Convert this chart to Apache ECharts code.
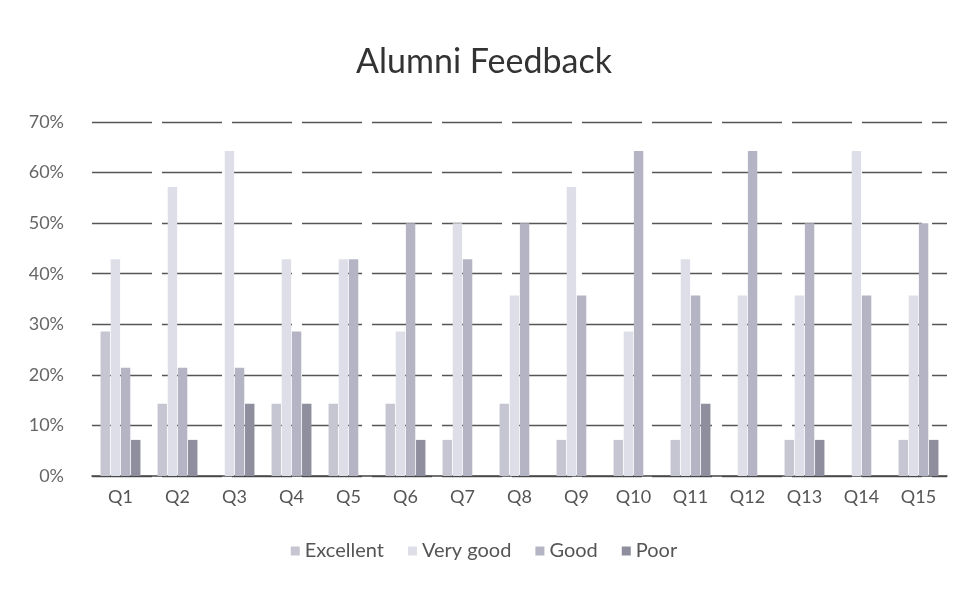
<!DOCTYPE html>
<html>
<head>
<meta charset="utf-8">
<script src="https://cdn.jsdelivr.net/npm/echarts@6/dist/echarts.min.js"></script>
<style>
html,body{margin:0;padding:0;background:#fff;}
#chart{width:968px;height:596px;}
</style>
</head>
<body>
<div id="chart"></div>
<script>
const categories = ['Q1','Q2','Q3','Q4','Q5','Q6','Q7','Q8','Q9','Q10','Q11','Q12','Q13','Q14','Q15'];
const excellent = [28.57,14.29,0,14.29,14.29,14.29,7.14,14.29,7.14,7.14,7.14,0,7.14,0,7.14];
const veryGood  = [42.86,57.14,64.29,42.86,42.86,28.57,50,35.71,57.14,28.57,42.86,35.71,35.71,64.29,35.71];
const good      = [21.43,21.43,21.43,28.57,42.86,50,42.86,50,35.71,64.29,35.71,64.29,50,35.71,50];
const poor      = [7.14,7.14,14.29,14.29,0,7.14,0,0,0,0,14.29,0,7.14,0,7.14];
const seriesNames = ['Excellent','Very good','Good','Poor'];
const seriesColors = ['#c6c6d2','#dedee8','#b4b4c4','#8e8e9e'];
const seriesData = [excellent, veryGood, good, poor];

const chart = echarts.init(document.getElementById('chart'));
const font = 'Lato, "Open Sans", sans-serif';
chart.setOption({
  animation: false,
  backgroundColor: '#fff',
  title: {
    text: 'Alumni Feedback',
    left: 'center',
    top: 40,
    textStyle: {fontFamily: font, fontSize: 34, fontWeight: 'normal', color: '#333'}
  },
  legend: {
    bottom: 30,
    left: 'center',
    itemWidth: 9,
    itemHeight: 9,
    itemGap: 24,
    icon: 'rect',
    textStyle: {fontFamily: font, fontSize: 20, color: '#555'},
    data: seriesNames
  },
  grid: {left: 92, right: 21, top: 122, bottom: 120},
  xAxis: {
    type: 'category',
    data: categories,
    axisTick: {show: false},
    axisLine: {lineStyle: {color: '#444', width: 1.5}},
    axisLabel: {fontFamily: font, fontSize: 18, color: '#555', margin: 12}
  },
  yAxis: {
    type: 'value',
    min: 0,
    max: 70,
    interval: 10,
    axisLabel: {formatter: '{value}%', fontFamily: font, fontSize: 18, color: '#666', margin: 28},
    axisLine: {show: false},
    axisTick: {show: false},
    splitLine: {lineStyle: {color: '#555', width: 1.3, type: [60, 10]}}
  },
  series: seriesData.map((d, i) => ({
    name: seriesNames[i],
    type: 'bar',
    data: d,
    barGap: '8%',
    barCategoryGap: '30%',
    itemStyle: {color: seriesColors[i]}
  }))
});
</script>
</body>
</html>
